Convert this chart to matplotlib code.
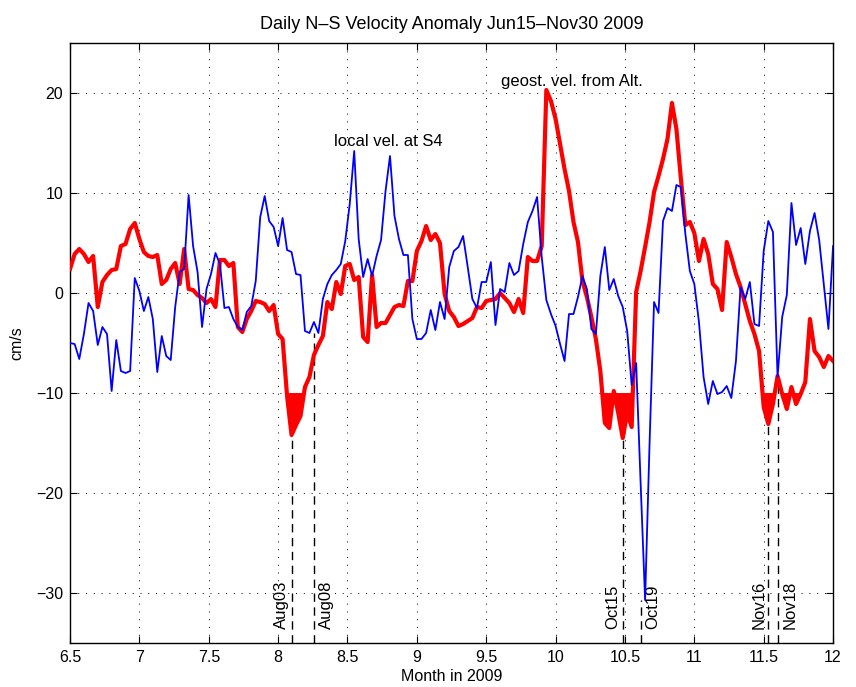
import matplotlib
matplotlib.use("Agg")
import matplotlib.pyplot as plt
import numpy as np
import pandas as pd

plt.rcParams["font.family"] = ["Liberation Sans", "DejaVu Sans"]
plt.rcParams["axes.unicode_minus"] = True

# daily values, Jun 15 .. Nov 30 2009 (cm/s)
start_date = "2009-06-15"
end_date = "2009-11-30"

local_vel = [
    -5.0, -5.1, -6.6, -4.1, -1.0, -1.8, -5.2, -3.4, -4.1, -9.8,
    -4.7, -7.8, -8.0, -7.8, 1.5, 0.2, -1.8, -0.4, -2.6, -7.9,
    -4.3, -6.3, -6.7, -1.4, 2.1, 2.4, 9.8, 4.7, 2.1, -3.4,
    0.4, 1.9, 4.0, 2.9, -1.5, -1.4, -2.6, -3.4, -3.7, -1.9,
    -1.3, 1.2, 7.6, 9.7, 7.2, 6.6, 4.7, 7.5, 4.3, 4.1,
    1.9, 1.8, -3.8, -4.0, -2.9, -4.0, -0.6, 0.9, 1.8, 2.3,
    2.9, 5.2, 8.9, 14.2, 5.4, 1.6, 3.4, 1.7, 3.7, 5.3,
    10.2, 13.7, 7.7, 5.4, 3.8, 3.8, -2.6, -4.6, -4.6, -4.0,
    -1.7, -3.7, -0.9, -2.6, 2.6, 4.2, 4.6, 5.7, 2.6, -0.6,
    -1.5, 1.1, 1.1, 3.1, -3.2, 0.4, 0.1, 3.0, 1.8, 2.2,
    4.9, 7.1, 8.2, 9.6, 3.6, -0.7, -2.1, -3.3, -5.1, -6.8,
    -2.1, -2.1, -0.4, 1.7, 0.4, -3.6, -4.1, 1.7, 4.6, 0.3,
    1.4, -0.3, -1.4, -3.8, -9.2, -7.0, -19.0, -30.7, -15.0, -0.9,
    -2.0, 7.2, 8.5, 8.2, 10.8, 10.6, 5.9, 2.2, 0.9, -2.9,
    -8.4, -11.1, -8.8, -10.1, -9.9, -9.3, -10.5, -6.8, 0.6, -0.6,
    1.1, -3.1, -3.3, 4.2, 7.2, 6.1, -8.4, -2.4, -0.2, 9.0,
    4.8, 6.5, 2.9, 6.2, 8.0, 5.3, 0.9, -3.6, 4.7,
]

geost_vel = [
    2.4, 3.9, 4.4, 3.9, 3.1, 3.7, -1.4, 1.1, 1.8, 2.3,
    2.4, 4.7, 4.9, 6.4, 7.0, 5.4, 4.1, 3.7, 3.6, 3.8,
    0.9, 1.3, 2.4, 3.0, 0.9, 4.4, 0.4, 0.3, -0.2, -0.5,
    -1.0, -0.6, -1.4, 3.3, 3.3, 2.7, 3.0, -3.4, -3.9, -2.6,
    -1.8, -0.8, -0.9,
    -1.1, -1.8, -1.2, -4.1, -4.6, -10.3, -14.2, -13.2, -12.3, -9.4,
    -8.4, -6.2, -5.2, -4.3, -0.9, -1.6, 1.1, -0.1, 2.7, 2.9,
    1.3, 1.6, -4.4, -4.9, 1.8, -3.4, -3.0, -3.0, -2.2, -1.4,
    -1.2, -1.3, 1.2, 1.2, 4.2, 5.2, 6.7, 5.3, 5.9, 5.0,
    -0.1, -1.8, -2.4,
    -3.3, -3.1, -2.8, -2.5, -1.4, -1.5, -0.8, -0.7, -0.6, 0.0,
    -0.5, -1.0, -1.9, -0.6, -2.0, 3.6, 3.2, 3.2, 4.7, 20.3,
    19.2, 17.4, 14.9, 12.4, 10.2, 7.1, 5.1, 1.2, -0.4, -2.4,
    -4.6, -7.8, -13.0, -13.5, -9.8, -12.0, -14.5, -12.0, -13.4, 0.1,
    2.2, 4.6, 7.1, 10.1, 11.7, 13.4, 15.4, 19.0, 16.4, 11.4,
    6.8, 7.1, 6.0, 3.2, 5.4, 3.9, 0.9, 0.4, -1.7, 5.1,
    3.6, 1.9, 0.6, -1.1, -2.8, -4.1, -5.8, -11.4, -13.1, -11.1,
    -8.3, -10.1, -11.6, -9.4, -11.1, -10.1, -8.9, -2.6, -5.8, -6.4,
    -7.4, -6.3, -6.8,
]

event_dates = ["2009-08-03", "2009-08-08", "2009-10-15",
               "2009-10-19", "2009-11-16", "2009-11-18"]
event_labels = ["Aug03", "Aug08", "Oct15", "Oct19", "Nov16", "Nov18"]
event_tops = [-14.2, -4.0, -14.5, -30.7, -13.0, -8.4]

threshold = -10.0


def month_decimal(dates):
    return np.asarray(dates.month + dates.day / dates.days_in_month, dtype=float)


dates = pd.date_range(start_date, end_date, freq="D")
x = month_decimal(dates)
blue = np.array(local_vel)
red = np.array(geost_vel)
ev_x = month_decimal(pd.DatetimeIndex(event_dates))

fig = plt.figure(figsize=(8.56, 6.87), dpi=100)
ax = fig.add_axes([0.0818, 0.064, 0.8914, 0.8734])

ax.fill_between(x, red, threshold, where=red < threshold, interpolate=True,
                color="red", lw=0, zorder=3)
ax.plot(x, red, color="red", lw=3.0, solid_joinstyle="round", zorder=4)
ax.plot(x, blue, color="blue", lw=1.3, zorder=5)

for i, (ex, lab, top) in enumerate(zip(ev_x, event_labels, event_tops)):
    ax.plot([ex, ex], [-35, top], color="k", lw=1.0,
            linestyle=(0, (6, 4)), zorder=2)
    if i % 2 == 0:
        ax.text(ex - 0.015, -33.6, lab, rotation=90, ha="right", va="bottom",
                fontsize=12)
    else:
        ax.text(ex + 0.035, -33.6, lab, rotation=90, ha="left", va="bottom",
                fontsize=12)

ax.text(8.40, 14.4, "local vel. at S4", fontsize=12, ha="left", va="bottom")
ax.text(9.607, 20.4, "geost. vel. from Alt.", fontsize=12, ha="left", va="bottom")

ax.set_xlim(6.5, 12)
ax.set_ylim(-35, 25)
ax.set_xticks(np.arange(6.5, 12.01, 0.5))
ax.set_xticklabels(["6.5", "7", "7.5", "8", "8.5", "9", "9.5", "10",
                    "10.5", "11", "11.5", "12"])
ax.set_yticks([-30, -20, -10, 0, 10, 20])
ax.grid(True, color="k", lw=0.7, linestyle=(0, (1, 7)))
ax.tick_params(direction="in", length=5, top=True, right=True,
               labelsize=11.5, pad=5)
for sp in ax.spines.values():
    sp.set_linewidth(1.0)

ax.set_xlabel("Month in 2009", fontsize=11.5, labelpad=3)
ax.set_ylabel("cm/s", fontsize=11.5, labelpad=8)
ax.set_title("Daily N\u2013S Velocity Anomaly Jun15\u2013Nov30 2009",
             fontsize=13, pad=10)

fig.savefig("out.png", dpi=100)
